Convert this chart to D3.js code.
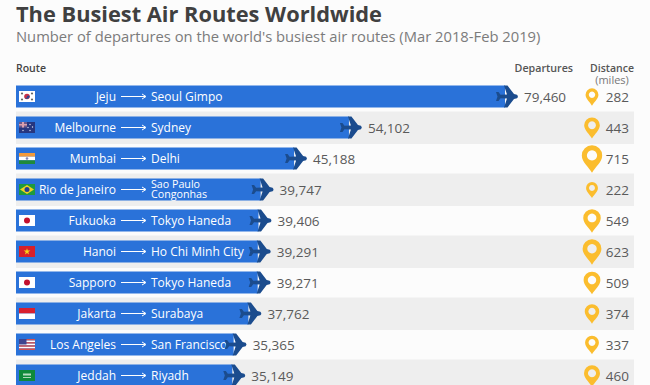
<!DOCTYPE html>
<html>
<head>
<meta charset="utf-8">
<script src="https://cdn.jsdelivr.net/npm/d3@7"></script>
<style>
  html, body { margin: 0; padding: 0; background: #fcfcfc; overflow: hidden; }
  svg { display: block; font-family: "Open Sans", sans-serif; }
</style>
</head>
<body>
<svg width="650" height="385"></svg>
<script>
// Data
const origins = ['Jeju', 'Melbourne', 'Mumbai', 'Rio de Janeiro', 'Fukuoka', 'Hanoi', 'Sapporo', 'Jakarta', 'Los Angeles', 'Jeddah'];
const destinations = ['Seoul Gimpo', 'Sydney', 'Delhi', 'Sao Paulo|Congonhas', 'Tokyo Haneda', 'Ho Chi Minh City', 'Tokyo Haneda', 'Surabaya', 'San Francisco', 'Riyadh'];
const departures = [79460, 54102, 45188, 39747, 39406, 39291, 39271, 37762, 35365, 35149];
const distances = [282, 443, 715, 222, 549, 623, 509, 374, 337, 460];
const flags = ['kr', 'au', 'in', 'br', 'jp', 'vn', 'jp', 'id', 'us', 'sa'];

const svg = d3.select('svg');
const formatNumber = d3.format(',');

const x = d3.scaleLinear().domain([0, 79460]).range([16, 505]);
const y = d3.scaleBand().domain(d3.range(origins.length)).range([81, 391]);
const pinHeight = d3.scaleLinear().domain([222, 715]).range([16, 27.5]);

// Title and headers
svg.append('text').attr('x', 16).attr('y', 22)
    .attr('font-size', 21.8).attr('font-weight', 700).attr('fill', '#404040')
    .text('The Busiest Air Routes Worldwide');
svg.append('text').attr('x', 16).attr('y', 42)
    .attr('font-size', 14.75).attr('fill', '#7b7b7b')
    .text("Number of departures on the world's busiest air routes (Mar 2018-Feb 2019)");
svg.append('text').attr('x', 16).attr('y', 71.5)
    .attr('font-size', 10.5).attr('font-weight', 600).attr('fill', '#444').text('Route');
svg.append('text').attr('x', 573).attr('y', 71.5).attr('text-anchor', 'end')
    .attr('font-size', 10.7).attr('font-weight', 600).attr('fill', '#555').text('Departures');
svg.append('text').attr('x', 612).attr('y', 71.5).attr('text-anchor', 'middle')
    .attr('font-size', 10.5).attr('font-weight', 600).attr('fill', '#555').text('Distance');
svg.append('text').attr('x', 612).attr('y', 84).attr('text-anchor', 'middle')
    .attr('font-size', 11).attr('fill', '#777').text('(miles)');

// Small flags, drawn inside a 16x11 box
function drawFlag(g, code) {
    const rect = (rx, ry, w, h, fill) => g.append('rect')
        .attr('x', rx).attr('y', ry).attr('width', w).attr('height', h).attr('fill', fill);
    if (code === 'kr') {
        rect(0, 0, 16, 11, '#fff');
        g.append('circle').attr('cx', 8).attr('cy', 5.5).attr('r', 2.8).attr('fill', '#c8324a');
        g.append('path').attr('d', 'M5.4 6.3a2.8 2.8 0 0 0 5.3 -0.8a1.4 1.4 0 0 0 -2.7 0a1.4 1.4 0 0 1 -2.6 0.8z').attr('fill', '#2a4a94');
        [[3, 2.5], [13, 2.5], [3, 8.5], [13, 8.5]].forEach(p => {
            g.append('circle').attr('cx', p[0]).attr('cy', p[1]).attr('r', 1.1).attr('fill', '#666');
        });
    } else if (code === 'au') {
        rect(0, 0, 16, 11, '#26367f');
        rect(0, 0, 8, 5.5, '#6d5a8c');
        rect(3, 0, 2, 5.5, '#d9a0ae');
        rect(0, 2, 8, 1.5, '#d9a0ae');
        [[11, 2.5], [13.5, 5], [11, 8.5], [9, 5.5], [4, 8.5]].forEach(p => {
            g.append('circle').attr('cx', p[0]).attr('cy', p[1]).attr('r', 0.7).attr('fill', '#dfe3f2');
        });
    } else if (code === 'in') {
        rect(0, 0, 16, 3.7, '#f29a3a');
        rect(0, 3.7, 16, 3.6, '#fff');
        rect(0, 7.3, 16, 3.7, '#1f8a3c');
        g.append('circle').attr('cx', 8).attr('cy', 5.5).attr('r', 1.3).attr('fill', '#7d84b8');
    } else if (code === 'br') {
        rect(0, 0, 16, 11, '#1f9a3e');
        g.append('path').attr('d', 'M8 1L15 5.5L8 10L1 5.5z').attr('fill', '#f2d21f');
        g.append('circle').attr('cx', 8).attr('cy', 5.5).attr('r', 2.5).attr('fill', '#24408e');
    } else if (code === 'jp') {
        rect(0, 0, 16, 11, '#fff');
        g.append('circle').attr('cx', 8).attr('cy', 5.5).attr('r', 3).attr('fill', '#c4102f');
    } else if (code === 'vn') {
        rect(0, 0, 16, 11, '#d8202a');
        g.append('path').attr('d', d3.symbol(d3.symbolStar, 14)()).attr('transform', 'translate(8,5.7)').attr('fill', '#f7d417');
    } else if (code === 'id') {
        rect(0, 0, 16, 5.5, '#d8202f');
        rect(0, 5.5, 16, 5.5, '#fff');
    } else if (code === 'us') {
        d3.range(7).forEach(i => rect(0, i * 11 / 7, 16, 11 / 7, i % 2 ? '#fff' : '#d4504f'));
        rect(0, 0, 7.5, 5.5, '#3f4590');
    } else if (code === 'sa') {
        rect(0, 0, 16, 11, '#0f8a3a');
        rect(4, 3.5, 8, 2, '#b5dcc0');
        rect(4, 7, 8, 0.8, '#d7eadb');
    }
}

// Rows
const row = svg.append('g').selectAll('g')
    .data(d3.range(origins.length))
    .enter().append('g')
    .attr('transform', i => `translate(0,${y(i) + y.bandwidth() / 2})`);

row.filter(i => i % 2 === 1).append('rect')
    .attr('x', 16).attr('y', -16).attr('width', 618).attr('height', 32.5)
    .attr('fill', '#eeeeee');

// Bars
row.append('rect')
    .attr('x', 16).attr('y', -11).attr('height', 22)
    .attr('width', i => x(departures[i]) - 16)
    .attr('fill', '#2a72d9');

// Route labels
row.append('text')
    .attr('x', 116).attr('y', 4.3).attr('text-anchor', 'end')
    .attr('font-size', 12).attr('fill', '#fff')
    .text(i => origins[i]);

row.append('path')
    .attr('d', 'M121 0H145M142 -2.5L146 0L142 2.5')
    .attr('fill', 'none').attr('stroke', '#fff').attr('stroke-width', 1);

row.each(function(i) {
    const lines = destinations[i].split('|');
    const label = d3.select(this).append('text')
        .attr('x', 151).attr('fill', '#fff')
        .attr('font-size', lines.length > 1 ? 10.7 : 12);
    lines.forEach((line, k) => {
        label.append('tspan').attr('x', 151)
            .attr('y', lines.length > 1 ? -1.2 + k * 9.5 : 4.3)
            .text(line);
    });
});

// Plane at the bar's end: the nose sits 13px past the bar
row.append('path')
    .attr('transform', i => `translate(${x(departures[i])},0)`)
    .attr('d', 'M-9 -4.5L-6.5 -4.5L-4.5 -1.7L2 -2L-1 -11L2.5 -11L9 -2.4L12 -1.8Q13.8 0 12 1.8L9 2.4L2.5 11L-1 11L2 2L-4.5 1.7L-6.5 4.5L-9 4.5L-7.5 0z')
    .attr('fill', '#1b4c8e');

// Flags
row.append('g')
    .attr('transform', 'translate(19,-5.5)')
    .each(function(i) { drawFlag(d3.select(this), flags[i]); });

// Departure values
row.append('text')
    .attr('x', i => x(departures[i]) + 19).attr('y', 5)
    .attr('font-size', 13.5).attr('fill', '#5a5a5a')
    .text(i => formatNumber(departures[i]));

// Distance pins, sized by miles
row.append('path')
    .attr('transform', i => `translate(592,0.5) scale(${pinHeight(distances[i]) / 27})`)
    .attr('fill-rule', 'evenodd')
    .attr('fill', '#fbbd2e')
    .attr('d', 'M0 13.5C-3 8 -10 3 -10 -3.5A10 10 0 0 1 10 -3.5C10 3 3 8 0 13.5zM0 -8.5A5 5 0 1 0 0.01 -8.5z');

// Distance values
row.append('text')
    .attr('x', 629).attr('y', 5).attr('text-anchor', 'end')
    .attr('font-size', 13.5).attr('fill', '#5a5a5a')
    .text(i => distances[i]);
</script>
</body>
</html>
